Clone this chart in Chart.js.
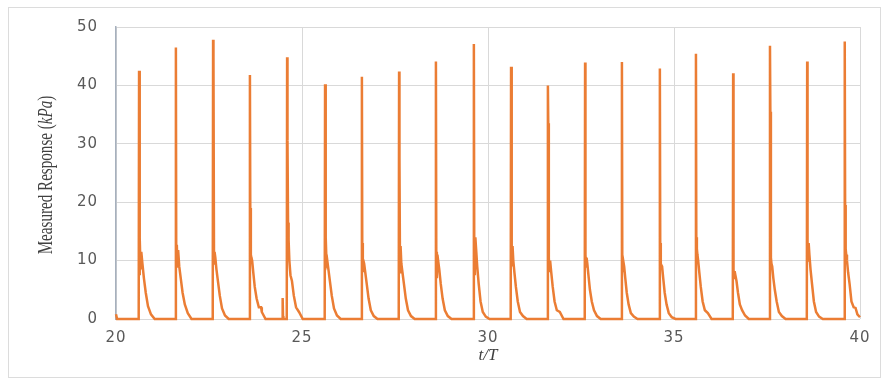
<!DOCTYPE html>
<html>
<head>
<meta charset="utf-8">
<script src="https://cdn.jsdelivr.net/npm/chart.js@4/dist/chart.umd.min.js"></script>
<style>
  html, body { margin: 0; padding: 0; background: #ffffff; }
  #wrap { width: 887px; height: 386px; position: relative; }
</style>
</head>
<body>
<div id="wrap"><canvas id="c" width="887" height="386"></canvas></div>
<script>
// Normalised time t/T of each sample
const timeT = [
  20.00, 20.03,
  20.61, 20.62, 20.63, 20.645, 20.66, 20.68, 20.71, 20.75, 20.80, 20.86, 20.94, 21.04,
  21.60, 21.61, 21.62, 21.635, 21.65, 21.67, 21.70, 21.74, 21.79, 21.85, 21.93, 22.03,
  22.60, 22.61, 22.62, 22.635, 22.65, 22.67, 22.70, 22.74, 22.79, 22.85, 22.93, 23.03,
  23.59, 23.60, 23.61, 23.625, 23.64, 23.66, 23.69, 23.73, 23.78, 23.84, 23.90, 23.92, 24.02,
  24.47, 24.48, 24.49, 24.50,
  24.59, 24.60, 24.61, 24.625, 24.64, 24.66, 24.69, 24.73, 24.78, 24.84, 24.92, 25.02,
  25.61, 25.62, 25.63, 25.645, 25.66, 25.68, 25.71, 25.75, 25.80, 25.86, 25.94, 26.04,
  26.60, 26.61, 26.62, 26.635, 26.65, 26.67, 26.70, 26.74, 26.79, 26.85, 26.93, 27.03,
  27.60, 27.61, 27.62, 27.635, 27.65, 27.67, 27.70, 27.74, 27.79, 27.85, 27.93, 28.03,
  28.59, 28.60, 28.61, 28.625, 28.64, 28.66, 28.69, 28.73, 28.78, 28.84, 28.92, 29.02,
  29.61, 29.62, 29.63, 29.645, 29.66, 29.68, 29.71, 29.75, 29.80, 29.86, 29.94, 30.04,
  30.61, 30.62, 30.63, 30.645, 30.66, 30.68, 30.71, 30.75, 30.80, 30.86, 30.94, 31.04,
  31.60, 31.61, 31.62, 31.635, 31.65, 31.67, 31.70, 31.74, 31.79, 31.85, 31.93, 32.03,
  32.60, 32.61, 32.62, 32.635, 32.65, 32.67, 32.70, 32.74, 32.79, 32.85, 32.93, 33.03,
  33.59, 33.60, 33.61, 33.625, 33.64, 33.66, 33.69, 33.73, 33.78, 33.84, 33.92, 34.02,
  34.61, 34.62, 34.63, 34.645, 34.66, 34.68, 34.71, 34.75, 34.80, 34.86, 34.94, 35.04,
  35.58, 35.59, 35.60, 35.615, 35.63, 35.65, 35.68, 35.72, 35.77, 35.83, 35.91, 36.01,
  36.58, 36.59, 36.60, 36.615, 36.63, 36.65, 36.68, 36.72, 36.77, 36.83, 36.91, 37.01,
  37.57, 37.58, 37.59, 37.605, 37.62, 37.64, 37.67, 37.71, 37.76, 37.82, 37.90, 38.00,
  38.57, 38.58, 38.59, 38.605, 38.62, 38.64, 38.67, 38.71, 38.76, 38.82, 38.90, 39.00,
  39.58, 39.59, 39.60, 39.615, 39.63, 39.65, 39.68, 39.72, 39.77, 39.83, 39.88, 39.93, 40.00
];

// Measured pressure response in kPa at each sample
const responseKPa = [
  0.8, 0,
  0, 42.5, 7.5, 13.9, 8.5, 11.5, 9.5, 7.0, 4.5, 2.2, 0.8, 0,
  0, 46.5, 9.0, 12.7, 9.5, 11.8, 9.0, 7.0, 4.5, 2.5, 1.0, 0,
  0, 47.8, 45.0, 9.5, 11.5, 10.5, 8.5, 6.5, 4.0, 1.8, 0.6, 0,
  0, 41.8, 19.0, 11.0, 10.5, 10.0, 8.0, 5.5, 3.5, 2.0, 2.0, 1.2, 0,
  0, 3.6, 0.5, 0,
  0, 44.8, 30.5, 16.5, 13.5, 10.0, 7.5, 6.5, 4.0, 2.0, 1.2, 0,
  0, 40.2, 17.0, 14.0, 9.5, 10.0, 8.5, 6.5, 4.0, 1.8, 0.6, 0,
  0, 41.5, 13.0, 8.0, 10.0, 9.5, 8.0, 6.0, 3.5, 1.5, 0.5, 0,
  0, 42.4, 27.5, 8.0, 12.5, 9.5, 8.0, 6.0, 3.5, 1.5, 0.5, 0,
  0, 44.1, 11.5, 7.0, 11.0, 10.0, 8.5, 6.0, 3.5, 1.5, 0.5, 0,
  0, 47.1, 14.0, 7.5, 14.0, 12.0, 9.0, 6.0, 3.0, 1.2, 0.4, 0,
  0, 43.2, 13.0, 9.0, 12.5, 10.0, 8.0, 5.5, 3.0, 1.2, 0.5, 0,
  0, 40.0, 33.5, 10.5, 8.0, 10.0, 8.0, 5.5, 3.0, 1.5, 1.2, 0,
  0, 43.9, 11.0, 9.0, 10.5, 9.5, 7.5, 5.0, 3.0, 1.5, 0.5, 0,
  0, 44.0, 10.0, 8.0, 9.8, 9.0, 7.0, 4.5, 2.5, 1.0, 0.4, 0,
  0, 42.9, 13.0, 9.5, 9.2, 9.0, 7.0, 4.5, 2.5, 1.0, 0.3, 0,
  0, 45.4, 14.0, 12.0, 11.0, 10.0, 8.0, 5.5, 3.0, 1.5, 1.0, 0,
  0, 42.1, 8.5, 7.0, 8.2, 7.5, 6.5, 4.5, 2.5, 1.5, 0.6, 0,
  0, 46.8, 35.5, 10.5, 9.5, 9.0, 7.0, 5.0, 3.0, 1.2, 0.5, 0,
  0, 44.1, 12.5, 10.0, 13.0, 11.0, 8.5, 6.0, 3.0, 1.2, 0.4, 0,
  0, 47.5, 19.5, 12.0, 11.0, 10.0, 8.0, 6.0, 3.0, 2.0, 1.9, 0.8, 0.3
];

// Axis ticks
const xTicks = [20, 25, 30, 35, 40];
const yTicks = [0, 10, 20, 30, 40, 50];

const xTitle = 't/T';
const yTitleParts = [
  { text: 'Measured Response (', italic: false },
  { text: 'kPa', italic: true },
  { text: ')', italic: false }
];

const points = timeT.map((t, i) => ({ x: t, y: responseKPa[i] }));

const frameAndTitles = {
  id: 'frameAndTitles',
  beforeDraw(chart) {
    const ctx = chart.ctx;
    ctx.save();
    ctx.fillStyle = '#ffffff';
    ctx.fillRect(0, 0, chart.width, chart.height);
    ctx.strokeStyle = '#dcdcdc';
    ctx.lineWidth = 1;
    ctx.strokeRect(8.5, 7.5, 872, 370);
    ctx.restore();
    ctx.letterSpacing = '1px';
  },
  afterDraw(chart) {
    const ctx = chart.ctx;
    ctx.letterSpacing = '0px';
    const area = chart.chartArea;
    ctx.save();
    // x-axis title
    ctx.fillStyle = '#404040';
    ctx.font = 'italic 17px "Liberation Serif", "DejaVu Serif", serif';
    ctx.textAlign = 'center';
    ctx.textBaseline = 'middle';
    ctx.fillText(xTitle, (area.left + area.right) / 2, 356);
    // y-axis title, rotated and condensed along its length
    ctx.translate(47, (area.top + area.bottom) / 2 + 2);
    ctx.rotate(-Math.PI / 2);
    ctx.scale(0.84, 1.15);
    const fonts = yTitleParts.map(p =>
      (p.italic ? 'italic ' : '') + '18px "Liberation Serif", "DejaVu Serif", serif');
    let total = 0;
    yTitleParts.forEach((p, i) => { ctx.font = fonts[i]; total += ctx.measureText(p.text).width; });
    let x = -total / 2;
    ctx.textAlign = 'left';
    yTitleParts.forEach((p, i) => {
      ctx.font = fonts[i];
      ctx.fillText(p.text, x, 0);
      x += ctx.measureText(p.text).width;
    });
    ctx.restore();
  }
};

new Chart(document.getElementById('c'), {
  type: 'line',
  data: {
    datasets: [{
      data: points,
      borderColor: '#EB7D34',
      borderWidth: 2.5,
      pointRadius: 0,
      tension: 0,
      fill: false,
      clip: 4
    }]
  },
  options: {
    responsive: false,
    animation: false,
    parsing: false,
    layout: { padding: { left: 0, right: 27, top: 25, bottom: 0 } },
    plugins: { legend: { display: false }, tooltip: { enabled: false } },
    scales: {
      x: {
        type: 'linear',
        min: 20, max: 40,
        afterBuildTicks(scale) { scale.ticks = xTicks.map(v => ({ value: v })); },
        afterFit(scale) { scale.height = 67; },
        grid: { color: '#d9d9d9', lineWidth: 1, drawTicks: false },
        border: { display: false },
        ticks: {
          padding: 10,
          color: '#595959',
          font: { family: '"DejaVu Sans", Verdana, sans-serif', size: 15 },
          maxRotation: 0
        }
      },
      y: {
        min: 0, max: 50,
        afterBuildTicks(scale) { scale.ticks = yTicks.map(v => ({ value: v })); },
        afterFit(scale) { scale.width = 116; },
        grid: { color: '#d9d9d9', lineWidth: 1, drawTicks: false },
        border: { display: true, color: '#a6b0bd', width: 1.5 },
        ticks: {
          padding: 18,
          color: '#595959',
          font: { family: '"DejaVu Sans", Verdana, sans-serif', size: 15 }
        }
      }
    }
  },
  plugins: [frameAndTitles]
});
</script>
</body>
</html>
